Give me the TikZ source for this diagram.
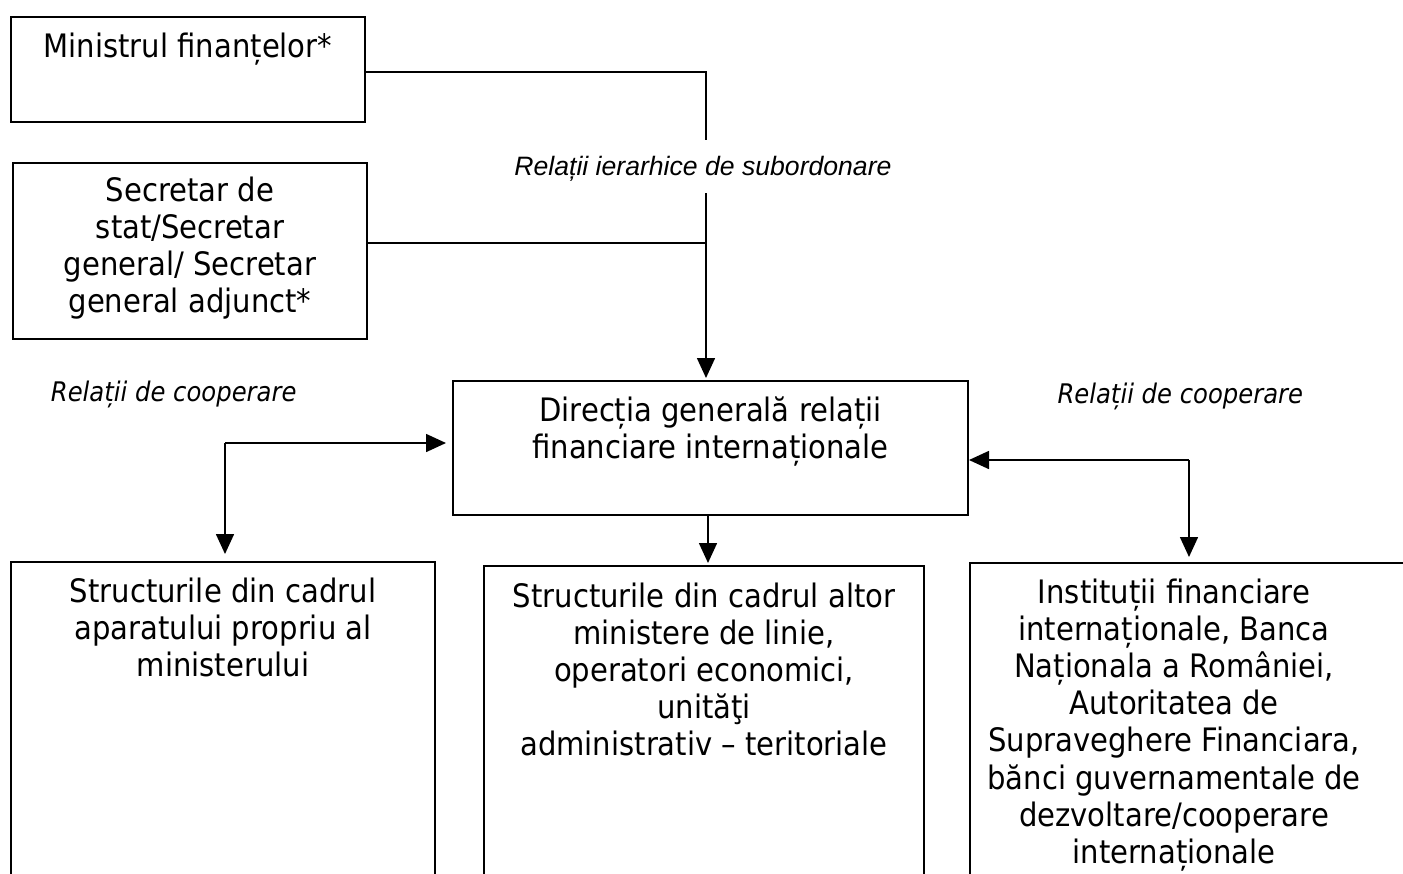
\documentclass[tikz,border=0pt]{standalone}
\usepackage{fontspec}
\usetikzlibrary{arrows.meta}
\newfontfamily\tahfont[FakeStretch=0.9]{DejaVu Sans}
\newfontfamily\arialfont{Liberation Sans}
\tikzset{
  boxnode/.style={draw, line width=1.6pt, inner sep=0pt, outer sep=0pt, anchor=north west},
  boxtext/.style={anchor=north, inner sep=0pt, align=center, font={\tahfont\fontsize{32.3}{37.2}\selectfont}},
  coop/.style={anchor=base, inner sep=0pt, font={\tahfont\itshape\fontsize{27}{32}\selectfont}},
  hier/.style={anchor=base, inner sep=0pt, font={\arialfont\itshape\fontsize{26.6}{30}\selectfont}},
  conn/.style={line width=1.6pt},
  arr/.style={line width=1.6pt, -{Triangle[length=20pt,width=18pt]}}
}
\begin{document}
\begin{tikzpicture}[x=1pt,y=-1pt]
\useasboundingbox (0,0) rectangle (1403,873);
\clip (0,0) rectangle (1403,873);
\fill[white] (0,0) rectangle (1403,873);

% boxes
\node[boxnode, minimum width=354pt, minimum height=105pt] (b1) at (11,17) {};
\node[boxnode, minimum width=354pt, minimum height=176pt] (b2) at (13,163) {};
\node[boxnode, minimum width=515pt, minimum height=134pt] (dg) at (453,381) {};
\node[boxnode, minimum width=424pt, minimum height=340pt] (bl) at (11,562) {};
\node[boxnode, minimum width=440pt, minimum height=340pt] (bm) at (484,566) {};
\node[boxnode, minimum width=460pt, minimum height=340pt] (br) at (970,563) {};

% box texts
\node[boxtext] (t1) at (188,30.9) {\strut Ministrul finanțelor*};
\node[boxtext] (t2) at (190,174.9) {\strut Secretar de\\ stat/Secretar\\ general/ Secretar\\ general adjunct*};
\node[boxtext] (tdg) at (710.5,394.9) {\strut Direcția generală relații\\ financiare internaționale};
\node[boxtext] (tl) at (223,575.9) {\strut Structurile din cadrul\\ aparatului propriu al\\ ministerului};
\node[boxtext] (tm) at (704,580.9) {\strut Structurile din cadrul altor\\ ministere de linie,\\ operatori economici,\\ unităţi\\ administrativ – teritoriale};
\node[boxtext] (tr) at (1174,576.9) {\strut Instituții financiare\\ internaționale, Banca\\ Naționala a României,\\ Autoritatea de\\ Supraveghere Financiara,\\ bănci guvernamentale de\\ dezvoltare/cooperare\\ internaționale};

% labels
\node[hier] (lh) at (703,175) {Relații ierarhice de subordonare};
\node[coop] (lcl) at (173.7,401.5) {Relații de cooperare};
\node[coop] (lcr) at (1180.3,403.3) {Relații de cooperare};

% connectors
\coordinate (h1) at (706,140);
\coordinate (h2) at (706,193);
\draw[conn] ([yshift=-2.5pt]b1.east) -| (h1);
\draw[conn] ([yshift=8pt]b2.east) -- ([yshift=8pt]b2.east -| h2);
\draw[arr, shorten >=3pt] (h2) -- (h2 |- dg.north);

\coordinate (cl) at (225,443);
\draw[arr, shorten >=7pt] (cl) -- (cl -| dg.west);
\draw[arr, shorten >=8pt] (cl) -- (cl |- bl.north);

\coordinate (cr) at (1189,460);
\draw[arr, shorten >=1pt] (cr) -- (cr -| dg.east);
\draw[arr, shorten >=6pt] (cr) -- (cr |- br.north);

\draw[arr, shorten >=3pt] ([xshift=-2.5pt]dg.south) -- ([xshift=-2.5pt]dg.south |- bm.north);
\end{tikzpicture}
\end{document}
